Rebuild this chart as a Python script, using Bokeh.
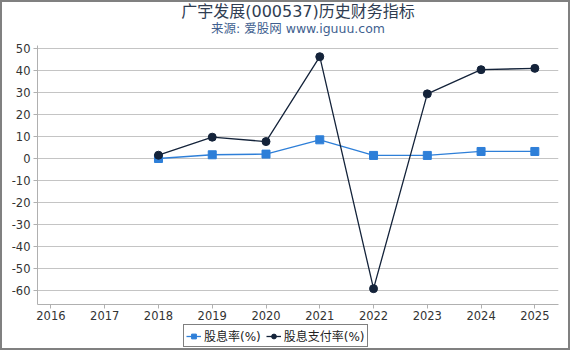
from bokeh.plotting import figure
from bokeh.models import Range1d, Label, Legend, LegendItem, FixedTicker, PrintfTickFormatter
from bokeh.layouts import column
from bokeh.embed import file_html
from bokeh.resources import INLINE

years = [2018, 2019, 2020, 2021, 2022, 2023, 2024, 2025]
dividend_yield = [0.0, 1.7, 2.0, 8.5, 1.4, 1.4, 3.2, 3.2]
payout_ratio = [1.5, 9.7, 7.7, 46.3, -59.2, 29.4, 40.4, 41.0]
x_ticks = [2016, 2017, 2018, 2019, 2020, 2021, 2022, 2023, 2024, 2025]
y_ticks = [50, 40, 30, 20, 10, 0, -10, -20, -30, -40, -50, -60]
series_names = ["股息率(%)", "股息支付率(%)"]
title_text = "广宇发展(000537)历史财务指标"
subtitle_text = "来源: 爱股网 www.iguuu.com"

FONT = "'DejaVu Sans', 'Noto Sans CJK SC', sans-serif"
BLUE = "#2e7fd8"
NAVY = "#14233a"
W = 566

# title strip
tf = figure(width=W, height=37, output_backend="svg", toolbar_location=None,
            x_axis_type=None, y_axis_type=None,
            x_range=Range1d(0, 1), y_range=Range1d(0, 37),
            min_border_left=0, min_border_right=0, min_border_top=0, min_border_bottom=0)
tf.grid.visible = False
tf.outline_line_color = None
tf.add_layout(Label(x=0.5, y=28, text=title_text, text_align="center", text_baseline="middle",
                    text_font=FONT, text_font_size="16px", text_color="#2f3d52"))
tf.add_layout(Label(x=0.5, y=11, text=subtitle_text, text_align="center", text_baseline="middle",
                    text_font=FONT, text_font_size="12.5px", text_color="#3f5f8f"))

# main chart
p = figure(width=W, height=285, output_backend="svg", toolbar_location=None,
           x_range=Range1d(2015.75, 2025.44), y_range=Range1d(-66.4, 51.4),
           min_border_left=35, min_border_right=10, min_border_top=6, min_border_bottom=20)
p.outline_line_color = None
p.xgrid.grid_line_color = None
p.ygrid.grid_line_color = "#c4c4c4"
p.ygrid.grid_line_width = 1

p.xaxis.ticker = FixedTicker(ticks=x_ticks)
p.yaxis.ticker = FixedTicker(ticks=y_ticks)
p.xaxis.formatter = PrintfTickFormatter(format="%d")
p.yaxis.formatter = PrintfTickFormatter(format="%d")
for ax in (p.xaxis, p.yaxis):
    ax.axis_line_color = "#b0b0b0"
    ax.major_tick_line_color = "#b0b0b0"
    ax.minor_tick_line_color = None
    ax.major_tick_in = 0
    ax.major_tick_out = 4
    ax.major_label_text_font = FONT
    ax.major_label_text_font_size = "11.5px"
    ax.major_label_text_color = "#333333"
p.xaxis.major_label_standoff = 2
p.yaxis.major_label_standoff = 3

p.line(years, dividend_yield, line_color=BLUE, line_width=1.3)
p.scatter(years, dividend_yield, marker="square", size=8, fill_color=BLUE, line_color=BLUE)
p.line(years, payout_ratio, line_color=NAVY, line_width=1.3)
p.scatter(years, payout_ratio, marker="circle", size=8, fill_color=NAVY, line_color=NAVY)

# legend strip (series drawn out of view, only their legend swatches show)
lg = figure(width=W, height=24, output_backend="svg", toolbar_location=None,
            x_axis_type=None, y_axis_type=None,
            x_range=Range1d(0, 1), y_range=Range1d(0, 1),
            min_border_left=0, min_border_right=0, min_border_top=0, min_border_bottom=0)
lg.grid.visible = False
lg.outline_line_color = None
l1 = lg.line(years, dividend_yield, line_color=BLUE, line_width=1.3)
m1 = lg.scatter(years, dividend_yield, marker="square", size=8, fill_color=BLUE, line_color=BLUE)
l2 = lg.line(years, payout_ratio, line_color=NAVY, line_width=1.3)
m2 = lg.scatter(years, payout_ratio, marker="circle", size=8, fill_color=NAVY, line_color=NAVY)

legend = Legend(items=[LegendItem(label=series_names[0], renderers=[l1, m1]),
                       LegendItem(label=series_names[1], renderers=[l2, m2])],
                location=(146, 1), orientation="horizontal",
                border_line_color="black", border_line_width=1,
                background_fill_color="white", background_fill_alpha=1,
                label_text_font=FONT, label_text_font_size="12px", label_text_color="#222222",
                glyph_width=15, glyph_height=12, label_standoff=3, spacing=5,
                padding=2, margin=0, label_height=12)
lg.add_layout(legend, "center")

layout = column(tf, p, lg, spacing=0)
layout.styles = {"border": "2px solid #808080"}

open("out.html", "w").write(file_html(layout, INLINE))
